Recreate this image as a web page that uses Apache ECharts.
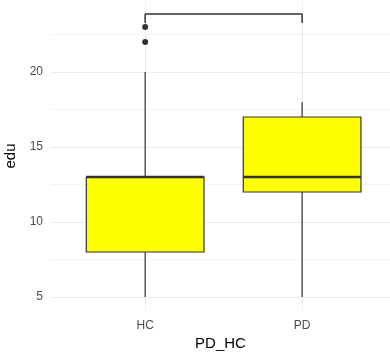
<!DOCTYPE html>
<html>
<head>
<meta charset="utf-8">
<script src="https://cdn.jsdelivr.net/npm/echarts@6/dist/echarts.min.js"></script>
<style>
  html, body { margin: 0; padding: 0; background: #fff; }
  #chart { width: 390px; height: 352px; }
</style>
</head>
<body>
<div id="chart"></div>
<script>
var categories = ['HC', 'PD'];
var whiskerLow = [5, 5];
var q1 = [8, 12];
var median = [13, 13];
var q3 = [13, 17];
var whiskerHigh = [20, 18];
var outliers = [[1, 23], [1, 22]];
var bracket = [[1, 23.27], [1, 23.87], [2, 23.87], [2, 23.27]];
var majorTicks = [5, 10, 15, 20];
var minorTicks = [7.5, 12.5, 17.5, 22.5];

var myChart = echarts.init(document.getElementById('chart'));

var boxData = [];
for (var i = 0; i < categories.length; i++) {
    boxData.push([i + 1, whiskerLow[i], q1[i], median[i], q3[i], whiskerHigh[i]]);
}

var gridLines = [];
for (var i = 0; i < majorTicks.length; i++) {
    gridLines.push({ yAxis: majorTicks[i], lineStyle: { width: 1 } });
}
for (var i = 0; i < minorTicks.length; i++) {
    gridLines.push({ yAxis: minorTicks[i], lineStyle: { width: 0.6 } });
}
for (var i = 0; i < categories.length; i++) {
    gridLines.push({ xAxis: i + 1, lineStyle: { width: 1 } });
}

var font = 'Liberation Sans';

function renderBox(params, api) {
    var x = api.value(0);
    var half = api.size([0.75, 0])[0] / 2;
    var pMin = api.coord([x, api.value(1)]);
    var pQ1 = api.coord([x, api.value(2)]);
    var pMed = api.coord([x, api.value(3)]);
    var pQ3 = api.coord([x, api.value(4)]);
    var pMax = api.coord([x, api.value(5)]);
    var stroke = '#333333';
    return {
        type: 'group',
        children: [
            { type: 'line', shape: { x1: pMin[0], y1: pMin[1], x2: pQ1[0], y2: pQ1[1] },
              style: { stroke: stroke, lineWidth: 1.2 } },
            { type: 'line', shape: { x1: pQ3[0], y1: pQ3[1], x2: pMax[0], y2: pMax[1] },
              style: { stroke: stroke, lineWidth: 1.2 } },
            { type: 'rect', shape: { x: pQ3[0] - half, y: pQ3[1], width: half * 2, height: pQ1[1] - pQ3[1] },
              style: { fill: '#FFFF00', stroke: stroke, lineWidth: 1.2 } },
            { type: 'line', shape: { x1: pMed[0] - half, y1: pMed[1], x2: pMed[0] + half, y2: pMed[1] },
              style: { stroke: stroke, lineWidth: 2.4 } }
        ]
    };
}

var option = {
    animation: false,
    grid: { left: 51, right: 0, top: 1.5, bottom: 41.5, outerBoundsMode: 'none', containLabel: false },
    xAxis: {
        type: 'value',
        min: 0.4,
        max: 2.56,
        name: 'PD_HC',
        nameLocation: 'middle',
        nameGap: 24,
        nameTextStyle: { fontFamily: font, fontSize: 15, color: '#000' },
        axisLine: { show: false },
        axisTick: { show: false, customValues: [1, 2] },
        splitLine: { show: false },
        axisLabel: {
            customValues: [1, 2],
            margin: 9,
            fontFamily: font,
            fontSize: 12,
            color: '#4D4D4D',
            formatter: function (v) { return categories[Math.round(v) - 1] || ''; }
        }
    },
    yAxis: {
        type: 'value',
        min: 4.1,
        max: 24.7,
        name: 'edu',
        nameLocation: 'middle',
        nameGap: 26,
        nameTextStyle: { fontFamily: font, fontSize: 15, color: '#000' },
        axisLine: { show: false },
        axisTick: { show: false, customValues: majorTicks },
        splitLine: { show: false },
        axisLabel: {
            customValues: majorTicks,
            margin: 8,
            fontFamily: font,
            fontSize: 12,
            color: '#4D4D4D'
        }
    },
    series: [
        {
            type: 'line',
            data: bracket,
            z: 1,
            symbol: 'none',
            silent: true,
            lineStyle: { color: '#333333', width: 1.5 },
            markLine: {
                silent: true,
                symbol: 'none',
                z: 0,
                label: { show: false },
                lineStyle: { color: '#EBEBEB', type: 'solid' },
                data: gridLines
            }
        },
        {
            type: 'custom',
            z: 3,
            renderItem: renderBox,
            data: boxData
        },
        {
            type: 'scatter',
            z: 4,
            data: outliers,
            symbolSize: 6,
            itemStyle: { color: '#333333', opacity: 1 }
        }
    ]
};

myChart.setOption(option);
</script>
</body>
</html>
